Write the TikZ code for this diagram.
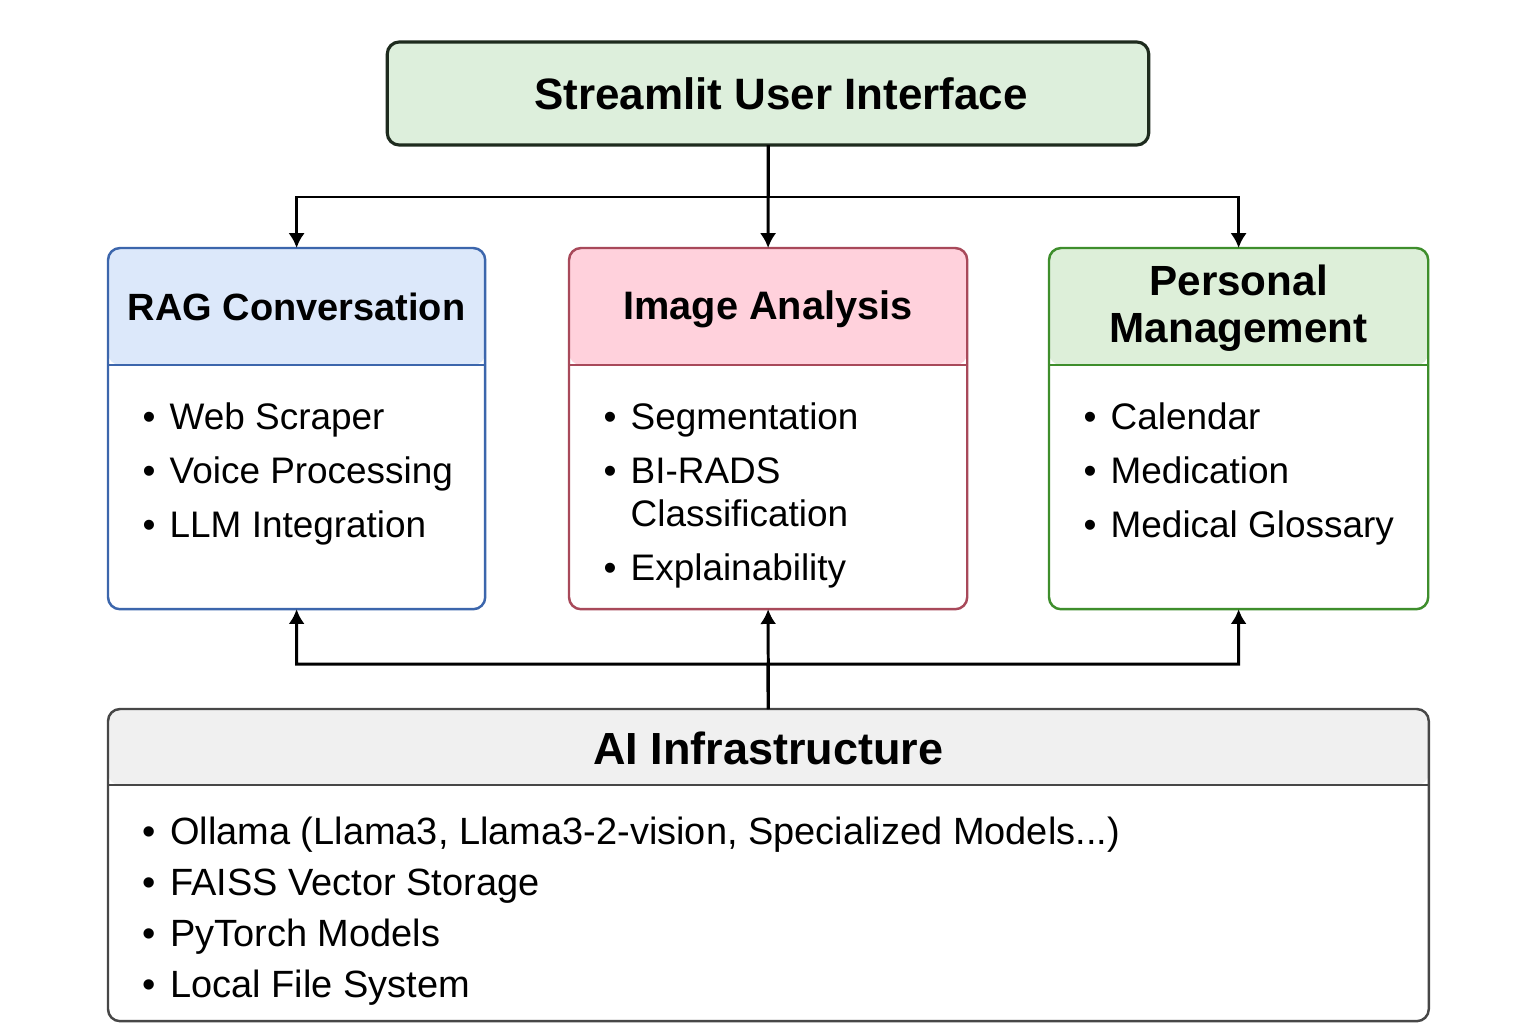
\documentclass[tikz,border=0pt]{standalone}
\usepackage{fontspec}
\setmainfont{Liberation Sans}
\usetikzlibrary{arrows.meta,positioning}
\definecolor{uifill}{HTML}{DDEFDC}
\definecolor{uiline}{HTML}{1E2B1E}
\definecolor{raghead}{HTML}{DCE8FA}
\definecolor{ragline}{HTML}{3C66AC}
\definecolor{imahead}{HTML}{FFD1DC}
\definecolor{imaline}{HTML}{A8495A}
\definecolor{pershead}{HTML}{DDEFD9}
\definecolor{persline}{HTML}{3E8E2C}
\definecolor{infrahead}{HTML}{F0F0F0}
\definecolor{infraline}{HTML}{474747}

\begin{document}
\begin{tikzpicture}[x=0.01cm, y=-0.01cm, every node/.style={inner sep=0pt, text=black},
  modbox/.style n args={3}{draw=#1, line width=0.7pt, rounded corners=0.12cm, fill=white, anchor=north west, outer sep=0pt,
    path picture={
      \fill[#2] (path picture bounding box.north west) rectangle ([yshift=-#3]path picture bounding box.north east);
      \draw[#1, line width=0.7pt] ([yshift=-#3]path picture bounding box.north west) -- ([yshift=-#3]path picture bounding box.north east);}},
  boxtitle/.style={font=\fontsize{11.3}{12.5}\selectfont\bfseries, align=center},
  itemlist/.style={anchor=base west, font=\fontsize{10.5}{12.2}\selectfont},
  conn/.style={-{Latex[length=4.2pt,width=4.6pt]}, line width=0.85pt}]
	\useasboundingbox (0,0) rectangle (1536,1024);

	\node[draw=uiline, fill=uifill, line width=0.9pt, rounded corners=0.12cm, outer sep=0pt,
	  minimum width=7.61cm, minimum height=1.03cm] (ui) at (768,93.5) {};
	\node[font=\fontsize{12.5}{15}\selectfont\bfseries] (uit) at ([xshift=0.13cm]ui.center) {Streamlit User Interface};

	\node[modbox={ragline}{raghead}{1.17cm}, minimum width=3.77cm, minimum height=3.61cm] (rag) at (108,248) {};
	\node[modbox={imaline}{imahead}{1.17cm}, minimum width=3.98cm, minimum height=3.61cm] (ima) at (569,248) {};
	\node[modbox={persline}{pershead}{1.17cm}, minimum width=3.79cm, minimum height=3.61cm] (pers) at (1049,248) {};
	\node[modbox={infraline}{infrahead}{0.76cm}, minimum width=13.2cm, minimum height=3.12cm] (infra) at (108,709) {};

	\node[boxtitle, font=\fontsize{10.8}{12.5}\selectfont\bfseries] (ragt) at ([yshift=-0.59cm]rag.north) {RAG Conversation};
	\node[boxtitle] (imat) at ([yshift=-0.61cm]ima.north) {Image Analysis};
	\node[boxtitle, font=\fontsize{12}{13.2}\selectfont\bfseries] (perst) at ([yshift=-0.6cm]pers.north) {Personal\\Management};
	\node[boxtitle, font=\fontsize{12.8}{14}\selectfont\bfseries] (infrat) at ([yshift=-0.39cm]infra.north) {AI Infrastructure};

	\node[itemlist] (ragl) at ([xshift=0.34cm,yshift=-1.81cm]rag.north west) {\begin{tabular}[t]{@{}l@{\hspace{4pt}}l@{}}
	  \textbullet & Web Scraper\\[3.2pt]
	  \textbullet & Voice Processing\\[3.2pt]
	  \textbullet & LLM Integration
	\end{tabular}};
	\node[itemlist] (imal) at ([xshift=0.34cm,yshift=-1.81cm]ima.north west) {\begin{tabular}[t]{@{}l@{\hspace{4pt}}l@{}}
	  \textbullet & Segmentation\\[3.2pt]
	  \textbullet & BI-RADS\\
	              & Classification\\[3.2pt]
	  \textbullet & Explainability
	\end{tabular}};
	\node[itemlist] (persl) at ([xshift=0.34cm,yshift=-1.81cm]pers.north west) {\begin{tabular}[t]{@{}l@{\hspace{4pt}}l@{}}
	  \textbullet & Calendar\\[3.2pt]
	  \textbullet & Medication\\[3.2pt]
	  \textbullet & Medical Glossary
	\end{tabular}};
	\node[itemlist, font=\fontsize{10.8}{14.5}\selectfont] (infral) at ([xshift=0.34cm,yshift=-1.35cm]infra.north west) {\begin{tabular}[t]{@{}l@{\hspace{4pt}}l@{}}
	  \textbullet & Ollama (Llama3, Llama3-2-vision, Specialized Models...)\\
	  \textbullet & FAISS Vector Storage\\
	  \textbullet & PyTorch Models\\
	  \textbullet & Local File System
	\end{tabular}};

	\coordinate (topbus) at (768,197);
	\coordinate (botbus) at (768,664);
	\draw[conn] (ui.south) -- (ima.north);
	\draw[conn] (ui.south) -- (topbus) -| (rag.north);
	\draw[conn] (ui.south) -- (topbus) -| (pers.north);
	\draw[conn] (infra.north) -- (ima.south);
	\draw[conn] (infra.north) -- (botbus) -| (rag.south);
	\draw[conn] (infra.north) -- (botbus) -| (pers.south);
\end{tikzpicture}
\end{document}
